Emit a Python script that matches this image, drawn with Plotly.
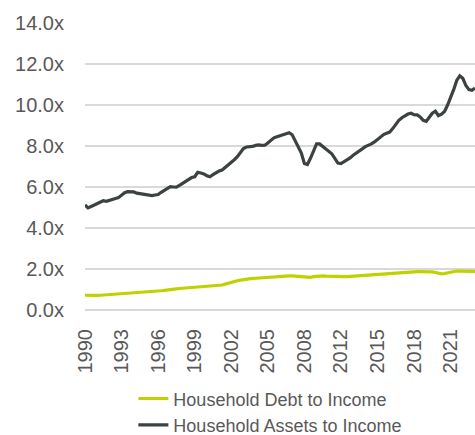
import plotly.graph_objects as go

tick_labels = ["1990", "1993", "1996", "1999", "2002", "2005", "2008", "2012", "2015", "2018", "2021"]
tick_every = 12  # quarters between labels

debt_to_income = [
    0.72, 0.71, 0.71, 0.70, 0.71, 0.72, 0.73, 0.73, 0.74, 0.75, 0.76, 0.77,
    0.78, 0.80, 0.81, 0.82, 0.84, 0.85, 0.86, 0.87, 0.88, 0.89, 0.90, 0.91,
    0.92, 0.94, 0.96, 0.97, 0.99, 1.01, 1.03, 1.05, 1.06, 1.08, 1.09, 1.10,
    1.11, 1.12, 1.13, 1.14, 1.15, 1.16, 1.18, 1.19, 1.21, 1.22, 1.26, 1.31,
    1.36, 1.40, 1.43, 1.46, 1.49, 1.51, 1.53, 1.54, 1.55, 1.56, 1.57, 1.59,
    1.61, 1.63, 1.64, 1.65, 1.66, 1.66, 1.66, 1.66, 1.66, 1.65, 1.63, 1.61,
    1.58, 1.57, 1.59, 1.63, 1.65, 1.66, 1.66, 1.65, 1.64, 1.63, 1.62, 1.62,
    1.62, 1.63, 1.63, 1.64, 1.65, 1.66, 1.67, 1.68, 1.70, 1.71, 1.73, 1.74,
    1.76, 1.77, 1.78, 1.79, 1.80, 1.82, 1.83, 1.84, 1.85, 1.86, 1.87, 1.87,
    1.87, 1.87, 1.87, 1.87, 1.87, 1.87, 1.86, 1.83, 1.78, 1.76, 1.78, 1.82,
    1.86, 1.89, 1.90, 1.90, 1.90, 1.90, 1.89, 1.88, 1.88,
]

assets_to_income = [
    5.12, 4.98, 5.05, 5.12, 5.22, 5.30, 5.33, 5.30, 5.36, 5.40, 5.44, 5.48,
    5.58, 5.72, 5.77, 5.76, 5.76, 5.70, 5.67, 5.65, 5.61, 5.58, 5.58, 5.61,
    5.63, 5.74, 5.84, 5.93, 6.02, 6.00, 5.99, 6.08, 6.17, 6.26, 6.36, 6.46,
    6.50, 6.72, 6.68, 6.64, 6.55, 6.50, 6.60, 6.70, 6.78, 6.83, 6.95, 7.10,
    7.22, 7.33, 7.48, 7.70, 7.88, 7.95, 7.96, 7.98, 8.03, 8.05, 8.03, 8.04,
    8.15, 8.28, 8.40, 8.45, 8.50, 8.54, 8.60, 8.65, 8.55, 8.25, 7.95, 7.66,
    7.15, 7.10, 7.40, 7.80, 8.10, 8.10, 7.97, 7.88, 7.75, 7.62, 7.40, 7.17,
    7.14, 7.22, 7.32, 7.42, 7.55, 7.64, 7.76, 7.86, 7.97, 8.03, 8.10, 8.20,
    8.32, 8.46, 8.56, 8.62, 8.68, 8.85, 9.05, 9.25, 9.38, 9.48, 9.56, 9.60,
    9.53, 9.52, 9.42, 9.25, 9.20, 9.40, 9.60, 9.70, 9.48, 9.55, 9.68, 10.00,
    10.35, 10.75, 11.20, 11.42, 11.30, 10.95, 10.75, 10.72, 10.82,
]

y_ticks = [0, 2, 4, 6, 8, 10, 12, 14]

idx = list(range(len(assets_to_income)))
tick_vals = [i * tick_every for i in range(len(tick_labels))]

TEXT = "#595959"
GRID = "#D9D9D9"
FONT = "Liberation Sans, Arial, sans-serif"

fig = go.Figure()
fig.add_trace(go.Scatter(
    x=idx, y=debt_to_income, mode="lines", name="Household Debt to Income",
    line=dict(color="#BED200", width=3.2),
))
fig.add_trace(go.Scatter(
    x=idx, y=assets_to_income, mode="lines", name="Household Assets to Income",
    line=dict(color="#3C4242", width=3.2),
))

fig.update_layout(
    width=475, height=435,
    margin=dict(l=85, r=0, t=23, b=125, autoexpand=False),
    paper_bgcolor="white", plot_bgcolor="white",
    font=dict(family=FONT, color=TEXT, size=18),
    showlegend=True,
    legend=dict(
        orientation="v", x=0.124, xanchor="left", y=-0.245, yanchor="top",
        font=dict(size=18, color=TEXT), tracegroupgap=0,
        bgcolor="rgba(0,0,0,0)",
    ),
    xaxis=dict(
        range=[0, len(idx) - 1], tickmode="array", tickvals=tick_vals,
        ticktext=tick_labels, tickangle=-90, showgrid=False, zeroline=False,
        tickfont=dict(size=20, color=TEXT), ticks="", ticklabelstandoff=14,
        showline=False,
    ),
    yaxis=dict(
        range=[0, 14], tickmode="array", tickvals=y_ticks,
        ticktext=[f"{v:.1f}x" for v in y_ticks],
        showgrid=True, gridcolor=GRID, gridwidth=1.5,
        zeroline=True, zerolinecolor=GRID, zerolinewidth=1.5,
        tickfont=dict(size=20, color=TEXT), ticks="", ticklabelstandoff=20,
        showline=False,
    ),
)

# remove the browser's default page margin so the figure fills the window
fig.write_html(
    "out.html",
    config={"displayModeBar": False},
    post_script="document.body.style.margin='0';document.body.style.overflow='hidden';",
)
